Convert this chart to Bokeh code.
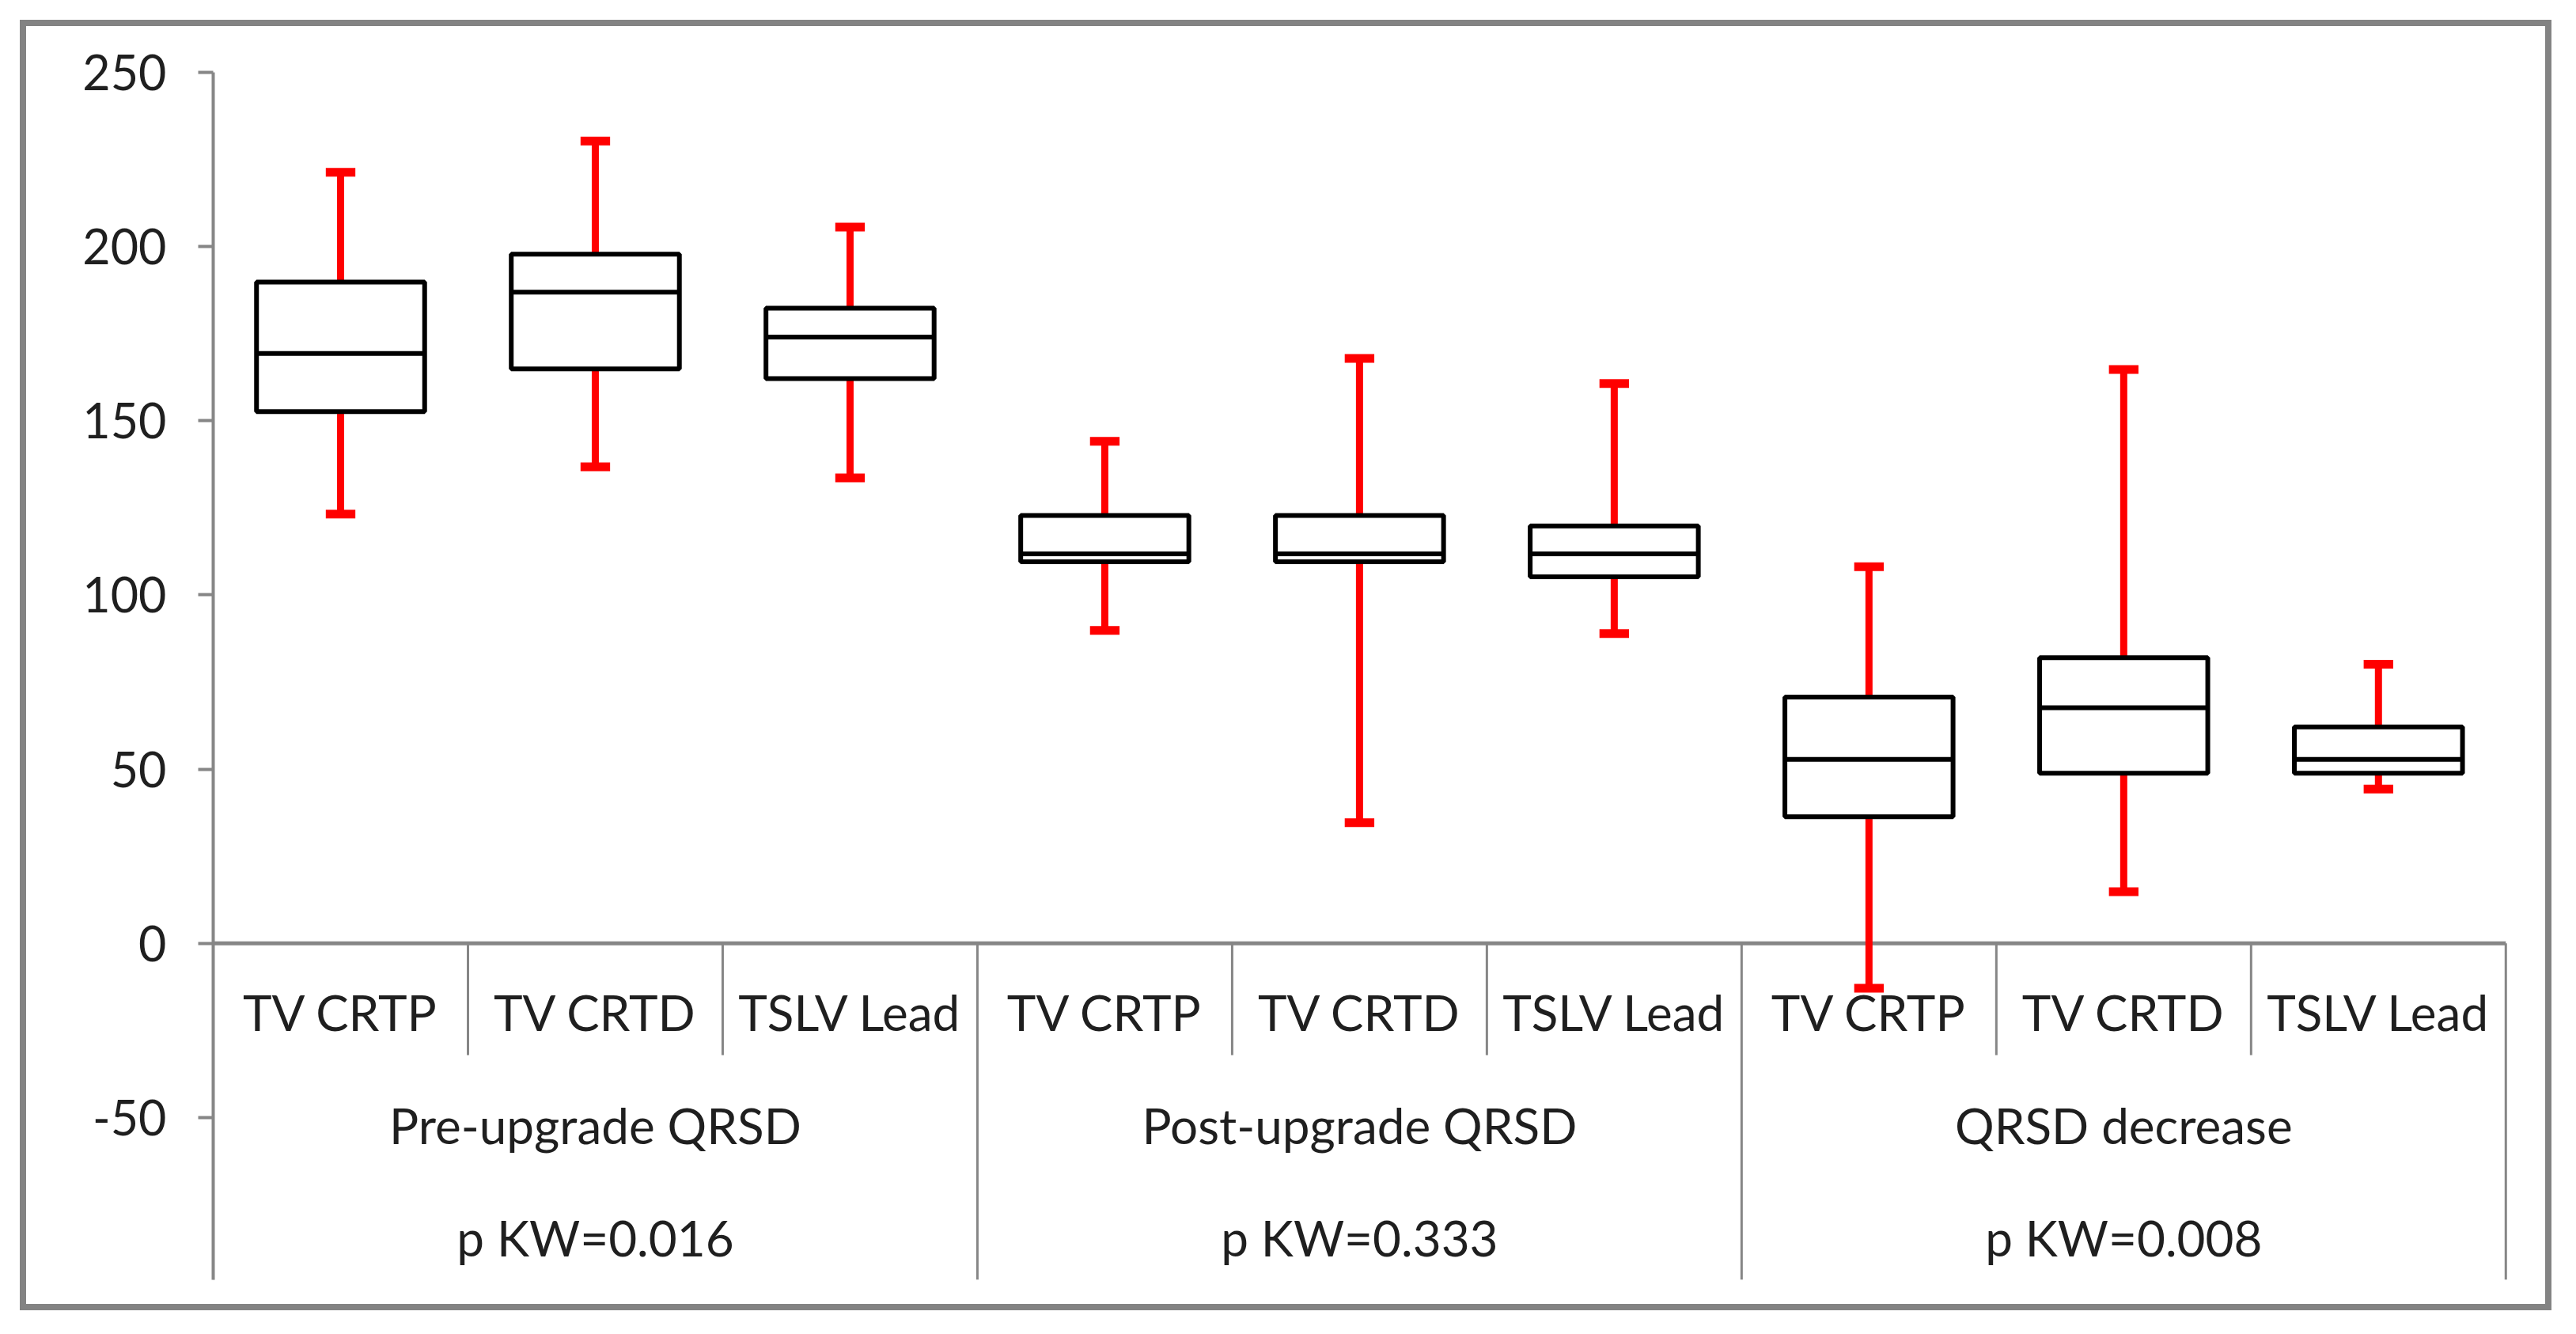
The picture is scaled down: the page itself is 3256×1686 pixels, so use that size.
from bokeh.plotting import figure
from bokeh.models import Range1d, FixedTicker
from bokeh.embed import file_html
from bokeh.resources import INLINE
from bokeh.core.properties import value

# ---------------- data ----------------
groups = ["Pre-upgrade QRSD", "Post-upgrade QRSD", "QRSD decrease"]
pvalues = ["p KW=0.016", "p KW=0.333", "p KW=0.008"]
devices = ["TV CRTP", "TV CRTD", "TSLV Lead"]
y_ticks = [-50, 0, 50, 100, 150, 200, 250]

whisker_low = [123.2, 136.8, 133.6, 89.8, 34.6, 88.9, -12.9, 14.8, 44.3]
q1 = [152.6, 164.9, 162.1, 109.5, 109.5, 105.2, 36.3, 48.8, 48.8]
median = [169.3, 186.9, 174.0, 111.8, 111.8, 111.8, 52.8, 67.6, 52.8]
q3 = [189.8, 197.8, 182.3, 122.8, 122.8, 119.8, 70.7, 82.0, 62.1]
whisker_high = [221.3, 230.3, 205.6, 144.1, 167.9, 160.7, 108.1, 164.7, 80.1]

# ---------------- derived positions ----------------
n_dev = len(devices)
n = len(groups) * n_dev
xs = [i + 0.5 for i in range(n)]
sub_labels = [d for g in groups for d in devices]
group_x = [gi * n_dev + n_dev / 2 for gi in range(len(groups))]
sub_bounds = [gi * n_dev + k for gi in range(len(groups)) for k in range(1, n_dev)]
group_bounds = [gi * n_dev for gi in range(len(groups) + 1)]

Y_MIN, Y_MAX = -96.6, 250
GRAY = "#868686"
TXT = "#1f1f1f"
FONT = "Lato"
FS = "61px"
FS_CAT = "62px"

p = figure(width=3184, height=1615, x_range=Range1d(0, n + 0.01),
           y_range=Range1d(Y_MIN, Y_MAX), output_backend="svg",
           toolbar_location=None, x_axis_location=None,
           min_border_left=236, min_border_right=63,
           min_border_top=58, min_border_bottom=47)
p.styles = {"position": "absolute", "left": "25px", "top": "25px",
            "border": "8px solid #838383", "box-sizing": "content-box"}
p.background_fill_color = "white"
p.border_fill_color = "white"
p.outline_line_color = None
p.xgrid.visible = False
p.ygrid.visible = False

ax = p.yaxis[0]
ax.ticker = FixedTicker(ticks=y_ticks)
ax.major_label_overrides = {t: str(t) for t in y_ticks}
ax.minor_tick_line_color = None
ax.major_tick_in = 0
ax.major_tick_out = 19
ax.axis_line_color = GRAY
ax.axis_line_width = 4
ax.major_tick_line_color = GRAY
ax.major_tick_line_width = 4
ax.major_label_text_font = FONT
ax.major_label_text_font_size = FS
ax.major_label_text_color = TXT
ax.major_label_standoff = 40

# category "table" lines
p.segment(x0=[0], y0=[0], x1=[n], y1=[0], line_color=GRAY, line_width=5)
p.segment(x0=sub_bounds, y0=[0] * len(sub_bounds), x1=sub_bounds,
          y1=[-32.1] * len(sub_bounds), line_color=GRAY, line_width=3)
p.segment(x0=group_bounds, y0=[0] * len(group_bounds), x1=group_bounds,
          y1=[Y_MIN] * len(group_bounds), line_color=GRAY, line_width=3)

# whiskers
p.segment(x0=xs, y0=q3, x1=xs, y1=whisker_high, line_color="#ff0000", line_width=9)
p.segment(x0=xs, y0=whisker_low, x1=xs, y1=q1, line_color="#ff0000", line_width=9)
cw = 0.058
p.segment(x0=[x - cw for x in xs], y0=whisker_high, x1=[x + cw for x in xs],
          y1=whisker_high, line_color="#ff0000", line_width=11)
p.segment(x0=[x - cw for x in xs], y0=whisker_low, x1=[x + cw for x in xs],
          y1=whisker_low, line_color="#ff0000", line_width=11)

# boxes
bw = 0.66
p.vbar(x=xs, width=bw, bottom=q1, top=q3, fill_color="white",
       line_color="black", line_width=6)
p.segment(x0=[x - bw / 2 for x in xs], y0=median, x1=[x + bw / 2 for x in xs],
          y1=median, line_color="black", line_width=6)

# category labels
p.text(x=xs, y=[-19.7] * n, text=sub_labels, text_align="center",
       text_baseline="alphabetic", text_font=value(FONT), text_font_size=FS_CAT,
       text_color=TXT)
p.text(x=group_x, y=[-52.1] * len(groups), text=groups, text_align="center",
       text_baseline="alphabetic", text_font=value(FONT), text_font_size=FS_CAT,
       text_color=TXT)
p.text(x=group_x, y=[-84.5] * len(groups), text=pvalues, text_align="center",
       text_baseline="alphabetic", text_font=value(FONT), text_font_size=FS_CAT,
       text_color=TXT)

open("out.html", "w").write(file_html(p, INLINE))
